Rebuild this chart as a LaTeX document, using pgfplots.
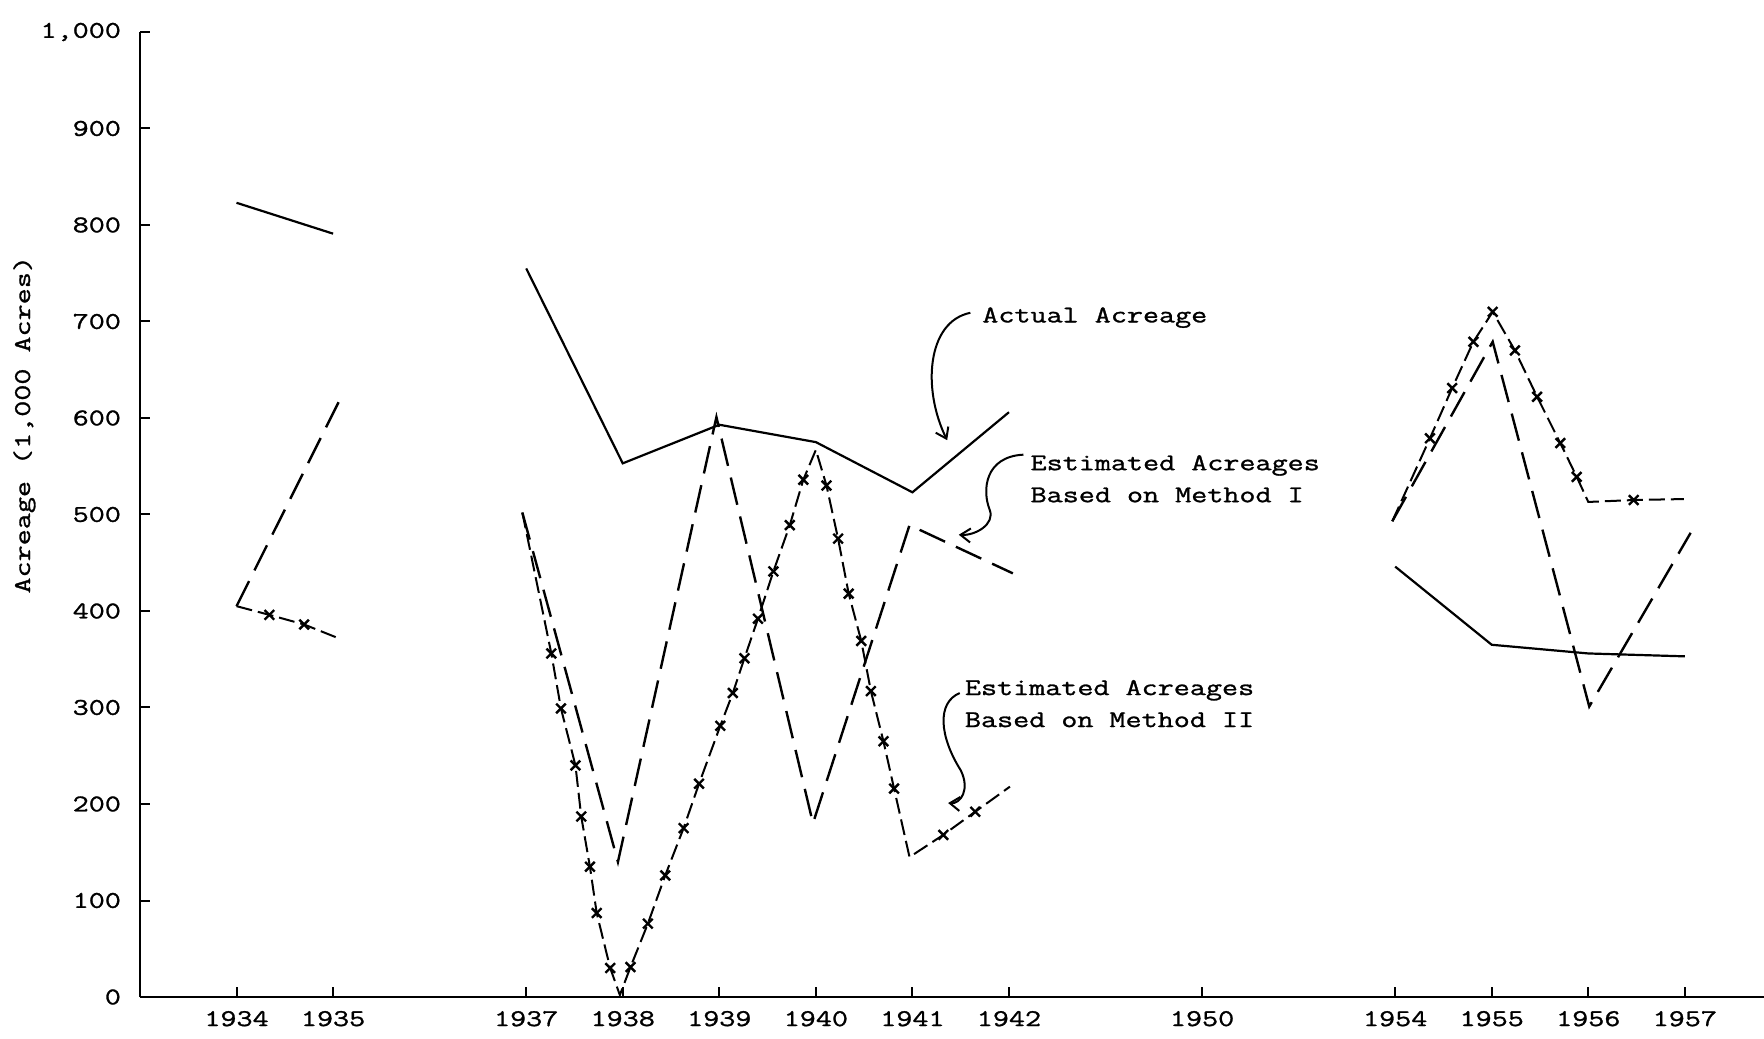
\documentclass[border=0pt]{standalone}
\usepackage{fontspec}
\setmainfont{Latin Modern Mono}[FakeStretch=1.3, FakeBold=1.2]
\usepackage{pgfplots}
\pgfplotsset{compat=1.18}
\usetikzlibrary{arrows.meta}

\pgfplotstableread{
x y
0 823
1 791
}\actA
\pgfplotstableread{
x y
3 755
4 553
5 593
6 575
7 523
8 606
}\actB
\pgfplotstableread{
x y
12 446
13 365
14 356
15 353
}\actC
\pgfplotstableread{
x y
0 405
1.1 625
}\mIA
\pgfplotstableread{
x y
2.96 502
3.95 140
4.97 601
5.97 180
6.97 489
8.04 439
}\mIB
\pgfplotstableread{
x y
11.97 493
13.01 679
14.01 301
15.06 481
}\mIC
\pgfplotstableread{
x y
0 405
0.34 396
0.70 386
1.05 372
}\mIIA
\pgfplotstableread{
x y
2.96 502
3.26 356
3.36 299
3.51 240
3.57 187
3.66 135
3.73 87
3.87 30
3.97 2
4.08 31
4.26 76
4.44 126
4.63 175
4.79 221
5.01 281
5.14 315
5.26 351
5.40 392
5.56 441
5.73 489
5.87 536
6.00 567
6.11 530
6.23 475
6.34 418
6.47 369
6.57 317
6.70 265
6.81 216
6.97 145
7.32 168
7.65 192
8.01 218
}\mIIB
\pgfplotstableread{
x y
11.97 493
12.36 579
12.59 631
12.81 679
13.01 710
13.24 670
13.47 622
13.71 574
13.88 539
14.00 513
14.47 515
14.99 516
}\mIIC
\pgfplotstableread{
x y
0.34 396
0.70 386
3.26 356
3.36 299
3.51 240
3.57 187
3.66 135
3.73 87
3.87 30
4.08 31
4.26 76
4.44 126
4.63 175
4.79 221
5.01 281
5.14 315
5.26 351
5.40 392
5.56 441
5.73 489
5.87 536
6.11 530
6.23 475
6.34 418
6.47 369
6.57 317
6.70 265
6.81 216
7.32 168
7.65 192
12.36 579
12.59 631
12.81 679
13.01 710
13.24 670
13.47 622
13.71 574
13.88 539
14.47 515
}\mIImarks

\begin{document}
\begin{tikzpicture}
\useasboundingbox (-70pt,-20.5pt) rectangle (812pt,498.5pt);
\begin{axis}[
  at={(0,0)}, anchor=south west,
  scale only axis, width=812pt, height=482.5pt,
  xmin=-1, xmax=15.82, ymin=0, ymax=1000,
  axis lines=left, axis line style={-, line width=1.3pt},
  clip=false,
  xtick={0,1,3,4,5,6,7,8,10,12,13,14,15},
  xticklabels={1934,1935,1937,1938,1939,1940,1941,1942,1950,1954,1955,1956,1957},
  ytick={0,100,...,1000},
  yticklabels={0,100,200,300,400,500,600,700,800,900,{1,000}},
  tick align=inside, major tick length=5pt,
  tick style={line width=1pt, black},
  ticklabel style={font=\fontsize{12}{14}\selectfont},
  xticklabel style={yshift=-3.5pt},
  yticklabel style={xshift=-6pt},
]
% Actual acreage
\addplot[black, line width=1.1pt] table {\actA};
\addplot[black, line width=1.1pt] table {\actB};
\addplot[black, line width=1.1pt] table {\actC};
% Method I
\addplot[black, line width=1.2pt, dash pattern=on 14pt off 6pt] table {\mIA};
\addplot[black, line width=1.2pt, dash pattern=on 14pt off 6pt] table {\mIB};
\addplot[black, line width=1.2pt, dash pattern=on 14pt off 6pt] table {\mIC};
% Method II
\addplot[black, line width=1.0pt, dash pattern=on 8pt off 3pt] table {\mIIA};
\addplot[black, line width=1.0pt, dash pattern=on 8pt off 3pt] table {\mIIB};
\addplot[black, line width=1.0pt, dash pattern=on 8pt off 3pt] table {\mIIC};
\addplot[black, only marks, mark=x, mark size=3.4pt, mark options={line width=1.2pt, solid}] table {\mIImarks};

% y label
\node[rotate=90, font=\fontsize{12}{14}\selectfont] at (axis cs:-2.197,593) {Acreage (1,000 Acres)};

% annotations
\node[anchor=west, font=\fontsize{12}{16}\selectfont, inner sep=0pt] at (axis cs:7.72,704) {Actual Acreage};
\node[anchor=west, align=left, font=\fontsize{12}{16}\selectfont, inner sep=0pt] at (axis cs:8.22,537) {Estimated Acreages\\Based on Method I};
\node[anchor=west, align=left, font=\fontsize{12}{16}\selectfont, inner sep=0pt] at (axis cs:7.54,304) {Estimated Acreages\\Based on Method II};

\draw[line width=1pt, -{Straight Barb[length=5pt,width=7pt]}] (axis cs:7.60,709) .. controls (axis cs:7.15,700) and (axis cs:7.10,630) .. (axis cs:7.36,577);
\draw[line width=1pt, -{Straight Barb[length=5pt,width=7pt]}] (axis cs:8.15,562) .. controls (axis cs:7.75,560) and (axis cs:7.72,525) .. (axis cs:7.80,505) .. controls (axis cs:7.86,490) and (axis cs:7.65,478) .. (axis cs:7.48,479);
\draw[line width=1pt, -{Straight Barb[length=5pt,width=7pt]}] (axis cs:7.49,315) .. controls (axis cs:7.25,305) and (axis cs:7.28,270) .. (axis cs:7.50,235) .. controls (axis cs:7.60,215) and (axis cs:7.50,200) .. (axis cs:7.37,201);
\end{axis}
\end{tikzpicture}
\end{document}
